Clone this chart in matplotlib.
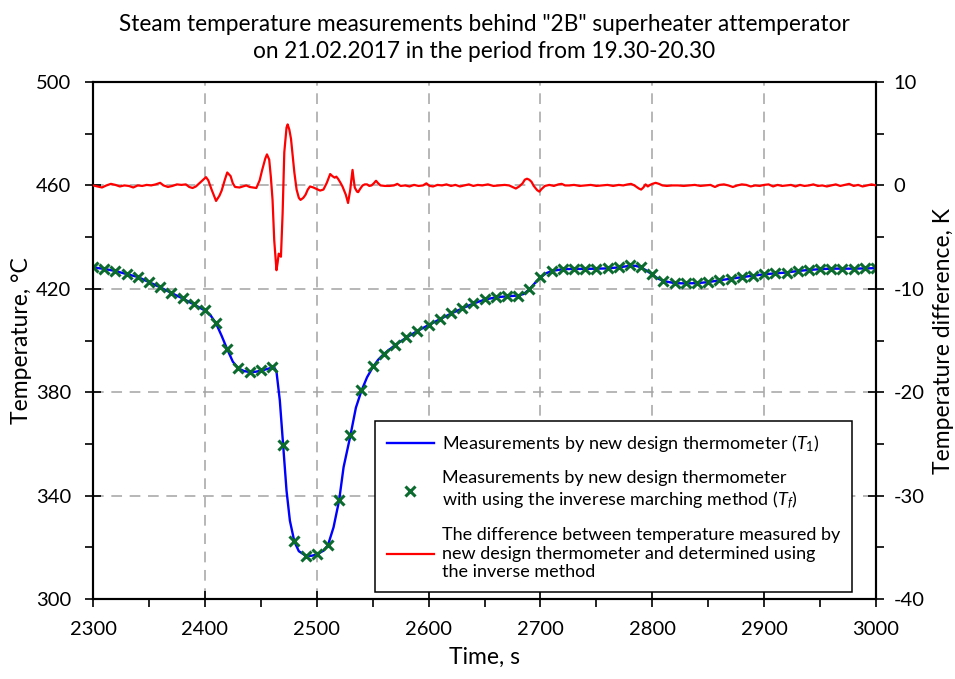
import matplotlib
matplotlib.use("Agg")
import matplotlib.pyplot as plt
from matplotlib.ticker import MultipleLocator, FixedLocator
from matplotlib.lines import Line2D

plt.rcParams["font.family"] = ["Lato", "DejaVu Sans"]
plt.rcParams["mathtext.fontset"] = "custom"
plt.rcParams["mathtext.rm"] = "Lato"
plt.rcParams["mathtext.it"] = "Lato:italic"
plt.rcParams["axes.unicode_minus"] = False

# Thermometer reading T1 (blue line)
t1_time = [2300, 2310, 2320, 2330, 2340, 2350, 2360, 2370, 2380, 2390,
           2400, 2405, 2410, 2415, 2420, 2425, 2430, 2435, 2440, 2445,
           2450, 2455, 2460, 2462, 2464, 2467, 2470, 2473, 2476, 2480,
           2484, 2490, 2495, 2500, 2506, 2510, 2515, 2520, 2524, 2530,
           2535, 2540, 2545, 2550, 2555, 2560, 2570, 2580, 2590, 2600,
           2610, 2620, 2630, 2640, 2650, 2660, 2670, 2680, 2685, 2690,
           2695, 2700, 2705, 2710, 2720, 2730, 2740, 2750, 2760, 2770,
           2780, 2785, 2790, 2795, 2800, 2805, 2810, 2820, 2830, 2840,
           2850, 2860, 2870, 2880, 2890, 2900, 2910, 2920, 2930, 2940,
           2950, 2960, 2970, 2980, 2990, 3000]
t1_temp = [428.3, 427.7, 426.9, 425.7, 424.6, 422.6, 420.6, 418.4, 416.3, 414.0,
           411.6, 409.8, 406.6, 401.8, 396.6, 391.8, 389.2, 388.2, 387.8, 387.9,
           388.3, 388.9, 389.5, 389.6, 388.0, 376.8, 359.4, 341.9, 330.3, 322.2,
           318.5, 316.8, 316.7, 317.2, 318.7, 320.8, 327.7, 338.1, 351.0, 363.0,
           374.0, 380.6, 385.8, 389.6, 392.6, 394.8, 398.2, 401.1, 403.7, 406.0,
           408.2, 410.4, 412.4, 414.3, 415.8, 416.7, 417.1, 417.4, 418.0, 419.8,
           422.2, 424.4, 426.0, 426.9, 427.6, 427.7, 427.7, 427.8, 427.9, 428.3,
           428.9, 428.9, 428.3, 427.0, 425.5, 424.0, 423.0, 422.2, 422.1, 422.2,
           422.6, 423.3, 423.9, 424.5, 425.1, 425.6, 426.0, 426.3, 426.9, 427.3,
           427.6, 427.8, 427.8, 427.8, 427.9, 428.0]

# Inverse marching method Tf (green crosses, every 10 s)
tf_time = list(range(2300, 3001, 10))
tf_temp = [428.3, 427.7, 426.9, 425.7, 424.6, 422.5, 420.6, 418.4, 416.3, 414.0,
           411.8, 406.9, 396.7, 389.5, 387.9, 388.5, 389.7, 359.6, 322.6, 316.8,
           317.3, 321.0, 338.3, 363.3, 380.9, 390.0, 394.9, 398.3, 401.2, 403.8,
           406.1, 408.2, 410.5, 412.5, 414.4, 415.9, 416.8, 417.2, 417.4, 420.0,
           424.4, 427.0, 427.7, 427.7, 427.7, 427.8, 427.9, 428.4, 429.2, 428.5,
           425.6, 423.0, 422.2, 422.2, 422.2, 422.6, 423.4, 423.9, 424.6, 425.1,
           425.6, 426.0, 426.2, 426.9, 427.3, 427.7, 427.8, 427.8, 427.8, 427.9,
           428.0]

# Difference T1 - Tf, K (red line, right axis)
diff_time = [2300, 2304, 2308, 2312, 2316, 2320, 2324, 2328, 2332, 2336,
             2340, 2344, 2348, 2352, 2356, 2360, 2363, 2367, 2371, 2375,
             2379, 2383, 2386, 2389, 2392, 2396, 2401, 2403, 2406, 2410,
             2413, 2415, 2418, 2420, 2423, 2425, 2427, 2431, 2434, 2437,
             2440, 2443, 2446, 2449, 2451, 2454, 2455.5, 2457.5, 2459, 2460.5,
             2462, 2464, 2465, 2466, 2467, 2468, 2469.5, 2471, 2473, 2474,
             2475.5, 2477, 2480, 2482, 2484, 2485.5, 2488, 2490, 2492, 2494,
             2497, 2499, 2503, 2506, 2509, 2512, 2514, 2516, 2517.5, 2519,
             2521, 2523, 2526, 2528, 2530, 2531, 2532, 2533, 2534, 2536,
             2537, 2539, 2541, 2543, 2545, 2547, 2549, 2551, 2553, 2555,
             2557, 2561, 2565, 2569, 2572, 2575, 2579, 2583, 2587, 2591,
             2595, 2598, 2601, 2604, 2608, 2612, 2616, 2620, 2624, 2628,
             2632, 2636, 2640, 2644, 2648, 2653, 2658, 2663, 2668, 2672,
             2676, 2678, 2681, 2684, 2686, 2688, 2690, 2692, 2694, 2697,
             2699, 2701, 2704, 2708, 2712, 2716, 2719, 2722, 2726, 2730,
             2735, 2740, 2745, 2750, 2755, 2760, 2765, 2770, 2774, 2778,
             2781, 2784, 2788, 2790, 2792, 2794, 2796, 2798, 2800, 2803,
             2806, 2809, 2813, 2818, 2823, 2828, 2833, 2838, 2843, 2848,
             2852, 2856, 2860, 2864, 2868, 2872, 2876, 2880, 2884, 2888,
             2892, 2896, 2900, 2904, 2908, 2912, 2916, 2920, 2924, 2928,
             2932, 2936, 2940, 2944, 2948, 2952, 2956, 2960, 2964, 2968,
             2972, 2976, 2980, 2984, 2988, 2992, 2996, 3000]
diff_val = [0.0, -0.1, -0.2, 0.0, 0.15, 0.05, -0.1, 0.0, -0.05, -0.2,
            0.0, -0.05, 0.05, 0.0, 0.1, 0.25, 0.0, -0.15, -0.05, 0.1,
            0.05, 0.1, -0.15, -0.25, -0.1, 0.3, 0.8, 0.5, -0.4, -1.5,
            -1.0, -0.5, 0.6, 1.25, 0.9, 0.2, -0.15, -0.2, -0.1, 0.0,
            -0.15, -0.2, -0.25, 0.5, 1.4, 2.6, 3.0, 2.5, 0.8, -1.4,
            -5.3, -8.2, -7.5, -6.6, -6.7, -6.9, -2.7, 3.2, 5.6, 5.9,
            5.4, 4.5, 1.25, -0.4, -1.2, -1.4, -1.2, -0.9, -0.4, -0.1,
            -0.2, -0.3, -0.5, -0.4, 0.25, 1.1, 0.9, 0.75, 0.85, 0.65,
            0.3, -0.1, -0.9, -1.7, -0.4, 0.6, 1.5, 0.6, -0.2, -0.6,
            -0.65, -0.3, 0.0, 0.1, 0.1, -0.05, 0.0, 0.2, 0.45, 0.2,
            0.0, -0.05, -0.05, 0.0, 0.15, -0.05, 0.0, -0.1, 0.05, -0.05,
            0.0, 0.2, -0.05, -0.1, 0.05, 0.0, 0.1, -0.05, 0.05, -0.1,
            0.0, 0.1, -0.05, 0.05, 0.0, 0.1, -0.05, 0.0, 0.05, 0.0,
            -0.2, -0.3, -0.1, 0.2, 0.55, 0.65, 0.55, 0.35, -0.05, -0.45,
            -0.6, -0.35, -0.05, 0.05, -0.05, 0.1, 0.15, 0.0, 0.0, 0.05,
            -0.05, 0.0, 0.05, -0.05, 0.0, 0.05, -0.05, 0.05, 0.0, 0.1,
            0.15, 0.0, -0.3, -0.4, -0.2, 0.1, -0.1, 0.05, 0.15, 0.25,
            0.15, 0.0, -0.05, 0.0, 0.0, -0.05, 0.0, 0.05, -0.05, 0.0,
            0.05, -0.15, 0.05, 0.1, 0.0, -0.15, 0.0, 0.1, 0.05, -0.1,
            0.0, -0.05, 0.05, 0.1, -0.1, 0.05, -0.05, 0.0, 0.05, -0.1,
            0.05, -0.05, 0.0, 0.1, -0.05, 0.0, -0.1, 0.0, 0.1, -0.05,
            0.05, 0.15, -0.05, 0.05, -0.1, 0.0, 0.1, 0.0]

temp_ticks = [300, 340, 380, 420, 460, 500]
temp_minor = [320, 360, 400, 440, 480]

title = ('Steam temperature measurements behind "2B" superheater attemperator\n'
         'on 21.02.2017 in the period from 19.30-20.30')
label_t1 = r"Measurements by new design thermometer ($T_1$)"
label_tf = ("Measurements by new design thermometer\n"
            r"with using the inverese marching method ($T_f$)")
label_diff = ("The difference between temperature measured by\n"
              "new design thermometer and determined using\n"
              "the inverse method")

fig = plt.figure(figsize=(9.55, 6.79), dpi=100)
ax = fig.add_axes([0.0974, 0.1178, 0.8199, 0.7614])
ax2 = ax.twinx()

ax.plot(t1_time, t1_temp, color="#0000FF", lw=1.7, zorder=3)
ax.plot(tf_time, tf_temp, ls="none", marker="x", ms=7, mew=2.2,
        color="#0B6B2F", zorder=4)
ax2.plot(diff_time, diff_val, color="#FF0000", lw=1.6, zorder=3)

ax.set_xlim(2300, 3000)
ax.set_ylim(300, 500)
ax2.set_ylim(-40, 10)

ax.xaxis.set_major_locator(MultipleLocator(100))
ax.xaxis.set_minor_locator(MultipleLocator(50))
ax.yaxis.set_major_locator(FixedLocator(temp_ticks))
ax.yaxis.set_minor_locator(FixedLocator(temp_minor))
ax2.yaxis.set_major_locator(MultipleLocator(10))
ax2.yaxis.set_minor_locator(MultipleLocator(5))

ax.grid(True, which="major", color="#A3A3A3", ls=(0, (7, 5)), lw=1.1)

for a in (ax, ax2):
    a.tick_params(which="major", direction="inout", length=11, width=1.2,
                  labelsize=14.5, colors="black")
    a.tick_params(which="minor", direction="out", length=6, width=1.2)
    for sp in a.spines.values():
        sp.set_linewidth(1.5)
ax.tick_params(axis="x", pad=10)
ax.tick_params(axis="y", pad=10)
ax2.tick_params(axis="y", pad=7)

ax.set_xlabel("Time, s", fontsize=16.5, labelpad=7)
ax.set_ylabel("Temperature, \u00b0C", fontsize=16.5, labelpad=3)
ax2.set_ylabel("Temperature difference, K", fontsize=16.5, labelpad=6)
ax.set_title(title, fontsize=16.3, linespacing=1.4, pad=17)

handles = [Line2D([], [], color="#0000FF", lw=1.7),
           Line2D([], [], ls="none", marker="x", ms=7, mew=2.2, color="#0B6B2F"),
           Line2D([], [], color="#FF0000", lw=1.6)]
leg = ax2.legend(handles, [label_t1, label_tf, label_diff],
                 loc="lower right", bbox_to_anchor=(0.9693, 0.0135),
                 fontsize=13, frameon=True, fancybox=False, framealpha=1,
                 edgecolor="black", handlelength=2.6, handletextpad=0.45,
                 borderpad=0.65, labelspacing=0.9, borderaxespad=0)
leg.get_frame().set_linewidth(1.1)

fig.savefig("out.png", dpi=100)
